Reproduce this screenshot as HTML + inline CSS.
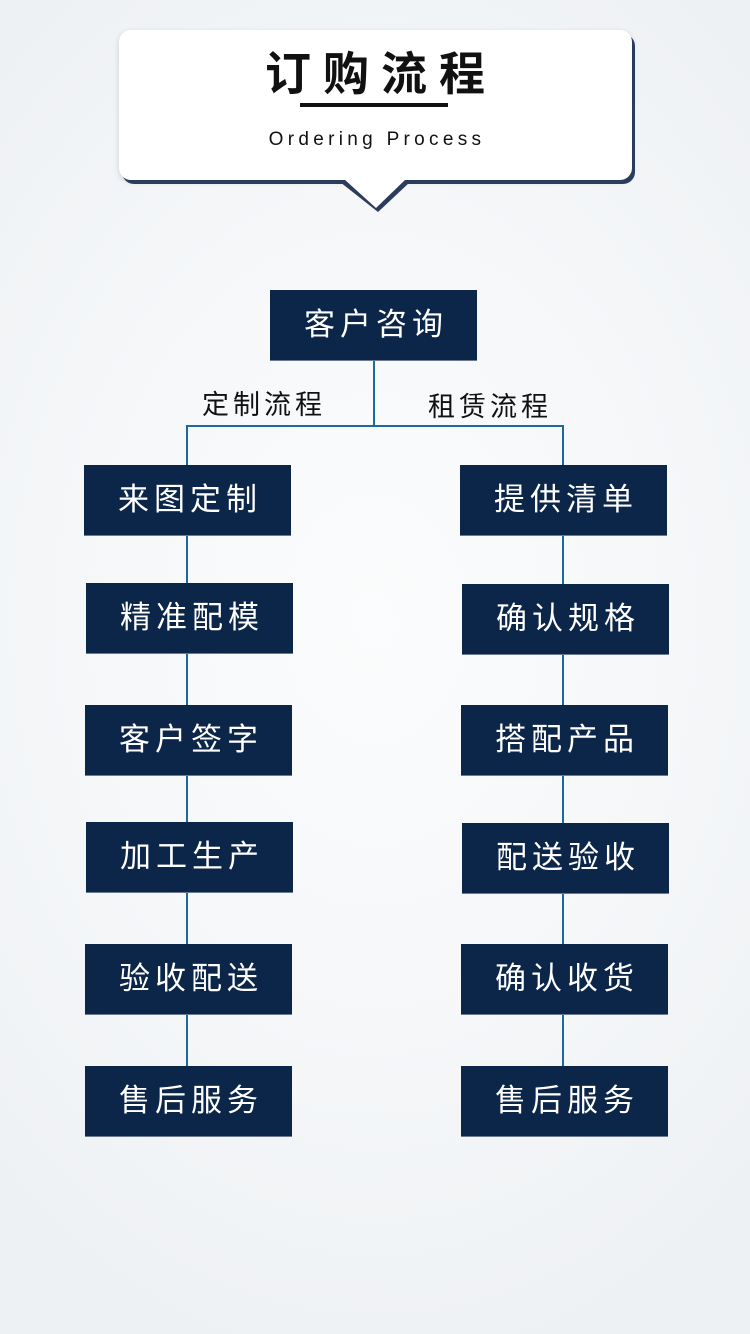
<!DOCTYPE html>
<html><head><meta charset="utf-8"><style>
html,body{margin:0;padding:0}
body{width:750px;height:1334px;position:relative;overflow:hidden;
background:radial-gradient(ellipse 560px 760px at 375px 620px,#fbfcfd 0%,#f5f7f9 55%,#eef1f4 100%);
font-family:"Liberation Sans","Noto Sans CJK SC",sans-serif;}
.card{position:absolute;left:119px;top:30px;width:513px;height:150px;background:#fff;border-radius:12px;
box-shadow:3px 4px 0 #2c3c5c,0 2px 6px rgba(0,0,0,.15);}
.title{position:absolute;left:0;width:750px;top:44px;text-align:center;font-size:46px;font-weight:bold;letter-spacing:12px;color:#111;line-height:60px;padding-left:12px;box-sizing:border-box}
.ul{position:absolute;left:300px;top:103px;width:148px;height:4px;background:#111}
.sub{position:absolute;left:0;width:750px;top:128px;text-align:center;font-size:19px;font-weight:normal;letter-spacing:4.3px;color:#111;line-height:24px;padding-left:4px;box-sizing:border-box}
.b{position:absolute;width:207px;height:70px;background:#0c2649;color:#fff;font-size:31px;letter-spacing:5px;text-align:center;line-height:70px;box-shadow:0 1px 0 #6a7a90;padding-left:5px;box-sizing:border-box}
.l{position:absolute;background:#1a6aa0}
.lab{position:absolute;font-size:27px;letter-spacing:4px;color:#111;line-height:30px}
</style></head><body>
<div class="card"></div>
<svg style="position:absolute;left:330px;top:170px" width="92" height="50">
<polygon points="10,12 80,12 48,42" fill="#2c3c5c"/>
<polygon points="14,9 76,9 46,38" fill="#fff"/>
</svg>
<div class="title">订购流程</div>
<div class="ul"></div>
<div class="sub">Ordering Process</div>

<div class="l" style="left:373px;top:360px;width:2px;height:67px"></div>
<div class="l" style="left:186px;top:425px;width:378px;height:2px"></div>
<div class="l" style="left:186px;top:425px;width:2px;height:680px"></div>
<div class="l" style="left:562px;top:425px;width:2px;height:680px"></div>

<div class="b" style="left:270px;top:290px">客户咨询</div>
<div class="lab" style="left:202px;top:390px">定制流程</div>
<div class="lab" style="left:428px;top:392px">租赁流程</div>

<div class="b" style="left:84px;top:465px">来图定制</div>
<div class="b" style="left:86px;top:583px">精准配模</div>
<div class="b" style="left:85px;top:705px">客户签字</div>
<div class="b" style="left:86px;top:822px">加工生产</div>
<div class="b" style="left:85px;top:944px">验收配送</div>
<div class="b" style="left:85px;top:1066px">售后服务</div>

<div class="b" style="left:460px;top:465px">提供清单</div>
<div class="b" style="left:462px;top:584px">确认规格</div>
<div class="b" style="left:461px;top:705px">搭配产品</div>
<div class="b" style="left:462px;top:823px">配送验收</div>
<div class="b" style="left:461px;top:944px">确认收货</div>
<div class="b" style="left:461px;top:1066px">售后服务</div>
</body></html>
